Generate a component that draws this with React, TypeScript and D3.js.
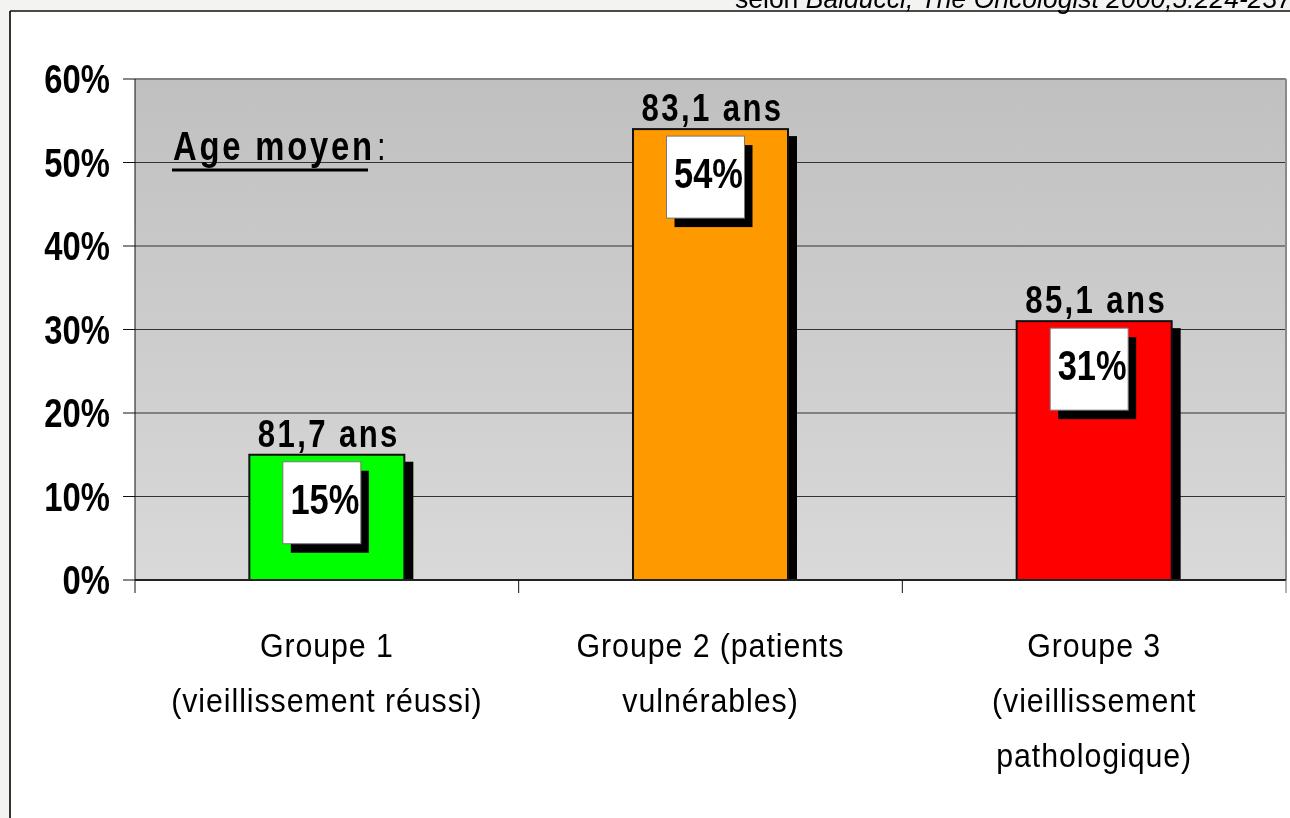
import React from "react";
import * as d3 from "d3";

const categories = ["g1", "g2", "g3"];
const categoryLines = [
  ["Groupe 1", "(vieillissement réussi)"],
  ["Groupe 2 (patients", "vulnérables)"],
  ["Groupe 3", "(vieillissement", "pathologique)"],
];
const values = [0.15, 0.54, 0.31];
const valueLabels = ["15%", "54%", "31%"];
const ageLabels = ["81,7 ans", "83,1 ans", "85,1 ans"];
const barColors = ["#00ff00", "#ff9900", "#ff0000"];
const yTicks = [0, 0.1, 0.2, 0.3, 0.4, 0.5, 0.6];

const W = 1290;
const H = 818;
const plot = { left: 135, right: 1286, top: 79, bottom: 580 };
const SANS = "'Liberation Sans', Arial, sans-serif";
const NARROW_SCALE = 0.82;

type NTProps = {
  x: number;
  y: number;
  size: number;
  anchor?: "start" | "middle" | "end";
  bold?: boolean;
  spacing?: number;
  scale?: number;
  children: React.ReactNode;
};

function NarrowText({ x, y, size, anchor = "start", bold = true, spacing = 0, scale = NARROW_SCALE, children }: NTProps) {
  return (
    <text
      transform={`translate(${x},${y}) scale(${scale},1)`}
      textAnchor={anchor}
      fontFamily={SANS}
      fontSize={size}
      fontWeight={bold ? "bold" : "normal"}
      letterSpacing={spacing}
      fill="#000"
    >
      {children}
    </text>
  );
}

export default function App() {
  const x = d3
    .scaleBand<string>()
    .domain(categories)
    .range([plot.left, plot.right])
    .paddingInner(0.596)
    .paddingOuter(0.298);
  const y = d3.scaleLinear().domain([0, 0.6]).range([plot.bottom, plot.top]);
  const step = x.step();
  const fmt = d3.format(".0%");

  return (
    <svg
      width={W}
      height={H}
      style={{ position: "fixed", left: 0, top: 0, display: "block" }}
    >
      <defs>
        <linearGradient id="plotbg" x1="0" y1="0" x2="0" y2="1">
          <stop offset="0" stopColor="#c0c0c0" />
          <stop offset="1" stopColor="#d9d9d9" />
        </linearGradient>
      </defs>
      <rect x={0} y={0} width={W} height={H} fill="#f3f3f1" />
      <rect x={10} y={11} width={W} height={H} fill="#ffffff" />
      <line x1={10} y1={11} x2={10} y2={H} stroke="#333" strokeWidth={2} />
      <line x1={10} y1={11} x2={W} y2={11} stroke="#111" strokeWidth={1.5} />

      {/* citation */}
      <text
        x={735}
        y={8}
        fontFamily={SANS}
        fontSize={27}
        fill="#000"
        textLength={557}
        lengthAdjust="spacingAndGlyphs"
      >
        selon <tspan fontStyle="italic">Balducci, The Oncologist 2000;5:224-237</tspan>
      </text>

      {/* plot area */}
      <rect
        x={plot.left}
        y={plot.top}
        width={plot.right - plot.left}
        height={plot.bottom - plot.top}
        fill="url(#plotbg)"
      />
      {yTicks.slice(1, -1).map((t) => (
        <line
          key={"g" + t}
          x1={plot.left}
          x2={plot.right}
          y1={y(t)}
          y2={y(t)}
          stroke="#333"
          strokeWidth={1}
        />
      ))}
      <line x1={plot.left} x2={plot.right} y1={plot.top} y2={plot.top} stroke="#808080" strokeWidth={2} />
      <line x1={plot.right} x2={plot.right} y1={plot.top} y2={plot.bottom} stroke="#8a8a8a" strokeWidth={2} />

      {/* Age moyen */}
      <NarrowText x={173} y={160} size={40} spacing={3.4}>
        Age moyen
      </NarrowText>
      <line x1={172} x2={368} y1={170} y2={170} stroke="#000" strokeWidth={3} />
      <NarrowText x={377} y={160} size={38} bold={false}>
        :
      </NarrowText>

      {/* bars */}
      {categories.map((c, i) => {
        const bx = x(c)!;
        const bw = x.bandwidth();
        const top = y(values[i]);
        const cx = bx + bw / 2;
        const boxW = 78;
        const boxH = 82;
        const boxX = cx - 44;
        const boxY = top + 7;
        return (
          <g key={c}>
            <rect x={bx + 9} y={top + 7} width={bw} height={plot.bottom - top - 7} fill="#000" />
            <rect
              x={bx}
              y={top}
              width={bw}
              height={plot.bottom - top}
              fill={barColors[i]}
              stroke="#111"
              strokeWidth={2}
            />
            <NarrowText x={cx + 2} y={top - 8} size={38} anchor="middle" spacing={2.9}>
              {ageLabels[i]}
            </NarrowText>
            <rect x={boxX + 8} y={boxY + 9} width={boxW} height={boxH} fill="#000" />
            <rect x={boxX} y={boxY} width={boxW} height={boxH} fill="#fff" stroke="#777" strokeWidth={1} />
            <NarrowText x={boxX + boxW / 2 + 3} y={boxY + 52} size={42} anchor="middle">
              {valueLabels[i]}
            </NarrowText>
          </g>
        );
      })}

      {/* axes */}
      <line x1={plot.left} x2={plot.left} y1={plot.top} y2={plot.bottom + 13} stroke="#111" strokeWidth={1} />
      <line x1={plot.left} x2={plot.right} y1={plot.bottom} y2={plot.bottom} stroke="#222" strokeWidth={2} />
      {yTicks.map((t) => (
        <g key={"t" + t}>
          <line x1={plot.left - 12} x2={plot.left} y1={y(t)} y2={y(t)} stroke="#111" strokeWidth={1} />
          <NarrowText x={110} y={y(t) + 14} size={40} anchor="end">
            {fmt(t)}
          </NarrowText>
        </g>
      ))}
      {categories.map((c, i) => (
        <line
          key={"xt" + c}
          x1={x(c)! - (step - x.bandwidth()) / 2 + step}
          x2={x(c)! - (step - x.bandwidth()) / 2 + step}
          y1={plot.bottom}
          y2={plot.bottom + 13}
          stroke={i === categories.length - 1 ? "#666" : "#111"}
          strokeWidth={1}
        />
      ))}
      {categories.map((c, i) => (
        <g key={"xl" + c}>
          {categoryLines[i].map((ln, j) => (
            <NarrowText
              key={j}
              x={x(c)! + x.bandwidth() / 2}
              y={657 + j * 55}
              size={33}
              anchor="middle"
              bold={false}
              scale={0.92}
              spacing={1}
            >
              {ln}
            </NarrowText>
          ))}
        </g>
      ))}
    </svg>
  );
}
